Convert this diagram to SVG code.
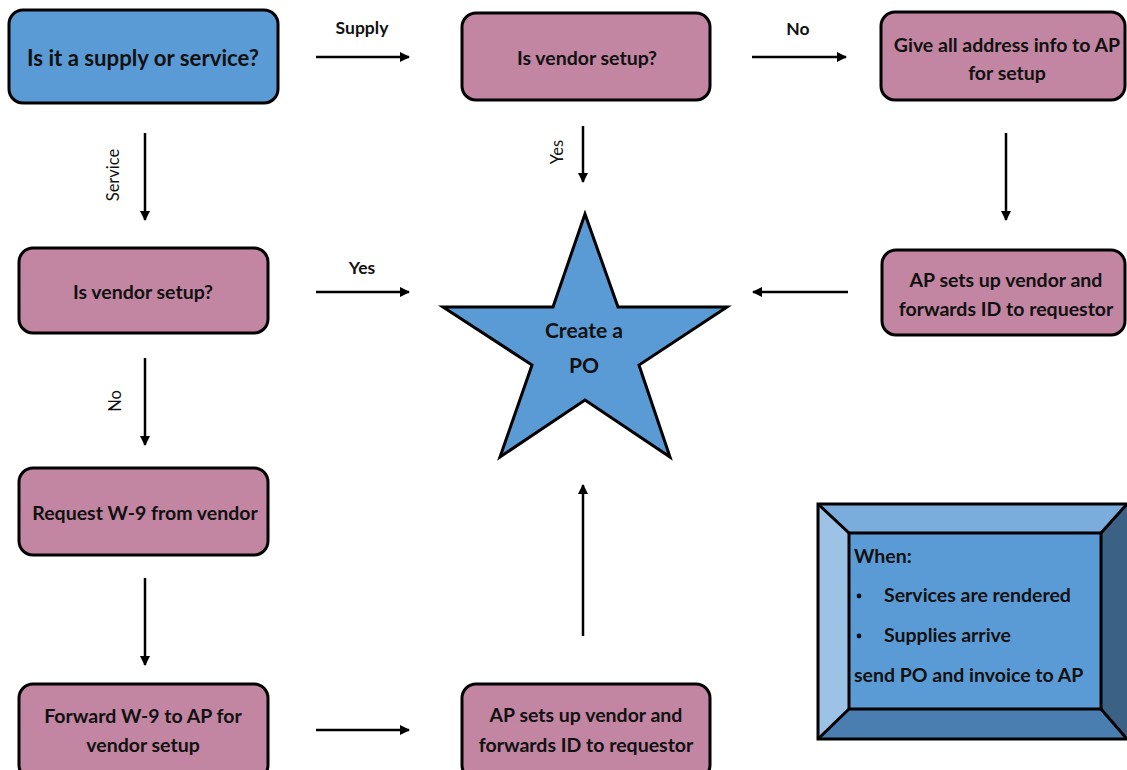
<svg xmlns="http://www.w3.org/2000/svg" width="1127" height="770" viewBox="0 0 1127 770">
  <style>
    .box { stroke: #000; stroke-width: 3; }
    .blue { fill: #5b9bd5; }
    .pink { fill: #c285a2; }
    .t { font-family: Lato, "Open Sans", "Liberation Sans", sans-serif; font-weight: bold; fill: #111; text-anchor: middle; font-size: 19.5px; }
    .l { text-anchor: start; }
    .big { font-size: 22.2px; }
    .star { font-size: 21.1px; }
    .lbl { font-family: Lato, "Open Sans", "Liberation Sans", sans-serif; fill: #111; text-anchor: middle; font-size: 17.5px; }
    .rot { font-size: 16.5px; }
    .c { stroke: #000; stroke-width: 2.5; fill: none; marker-end: url(#arr); }
  </style>
  <defs>
    <marker id="arr" viewBox="0 0 10 10" refX="9" refY="5" markerWidth="4" markerHeight="4" orient="auto" markerUnits="strokeWidth">
      <path d="M0,0 L10,5 L0,10 z" fill="#000"/>
    </marker>
  </defs>
  <rect width="1127" height="770" fill="#fff"/>

  <g id="connectors">
    <line class="c" x1="316" y1="57" x2="409" y2="57"/>
    <text class="lbl" x="362" y="34" font-weight="bold">Supply</text>
    <line class="c" x1="752" y1="57" x2="846" y2="57"/>
    <text class="lbl" x="798" y="35" font-weight="bold">No</text>
    <line class="c" x1="583" y1="126" x2="583" y2="182"/>
    <text class="lbl rot" transform="translate(563,152) rotate(-90)">Yes</text>
    <line class="c" x1="1006" y1="133" x2="1006" y2="220"/>
    <line class="c" x1="848" y1="292" x2="753" y2="292"/>
    <line class="c" x1="145" y1="133" x2="145" y2="220"/>
    <text class="lbl rot" transform="translate(119,175) rotate(-90)">Service</text>
    <line class="c" x1="316" y1="292" x2="409" y2="292"/>
    <text class="lbl" x="362" y="274" font-weight="bold">Yes</text>
    <line class="c" x1="145" y1="358" x2="145" y2="445"/>
    <text class="lbl rot" transform="translate(121,401) rotate(-90)">No</text>
    <line class="c" x1="145" y1="578" x2="145" y2="665"/>
    <line class="c" x1="316" y1="730" x2="409" y2="730"/>
    <line class="c" x1="583" y1="636" x2="583" y2="485"/>
  </g>

  <g id="n-supply-or-service">
    <rect class="box blue" x="9" y="10" width="269" height="93" rx="14"/>
    <text class="t big" x="143" y="66">Is it a supply or service?</text>
  </g>

  <g id="n-vendor-setup-supply">
    <rect class="box pink" x="462" y="13" width="248" height="87" rx="14"/>
    <text class="t" x="587" y="65">Is vendor setup?</text>
  </g>

  <g id="n-give-address">
    <rect class="box pink" x="881" y="12" width="244" height="88" rx="14"/>
    <text class="t" x="1007" y="52">Give all address info to AP</text>
    <text class="t" x="1007" y="80">for setup</text>
  </g>

  <g id="n-ap-setup-right">
    <rect class="box pink" x="882" y="250" width="243" height="85" rx="14"/>
    <text class="t" x="1006" y="287">AP sets up vendor and</text>
    <text class="t" x="1006" y="316">forwards ID to requestor</text>
  </g>

  <g id="n-vendor-setup-service">
    <rect class="box pink" x="19" y="248" width="249" height="85" rx="14"/>
    <text class="t" x="143" y="299">Is vendor setup?</text>
  </g>

  <g id="n-create-po">
    <polygon class="box blue" points="585,214 553,307 443,307 532,365 500,457 585,400 670,457 639,365 727,307 618,307"/>
    <text class="t star" x="584" y="338">Create a</text>
    <text class="t star" x="584" y="373">PO</text>
  </g>

  <g id="n-request-w9">
    <rect class="box pink" x="19" y="468" width="249" height="87" rx="14"/>
    <text class="t" x="145" y="520">Request W-9 from vendor</text>
  </g>

  <g id="n-forward-w9">
    <rect class="box pink" x="19" y="684" width="249" height="95" rx="14"/>
    <text class="t" x="143" y="723">Forward W-9 to AP for</text>
    <text class="t" x="143" y="752">vendor setup</text>
  </g>

  <g id="n-ap-setup-bottom">
    <rect class="box pink" x="462" y="684" width="248" height="95" rx="14"/>
    <text class="t" x="586" y="722">AP sets up vendor and</text>
    <text class="t" x="586" y="752">forwards ID to requestor</text>
  </g>

  <g id="n-when-note">
    <polygon points="818,504 1127,504 1101,533 849,533" fill="#7aaddc"/>
    <polygon points="818,504 849,533 849,709 818,739" fill="#9cc2e5"/>
    <polygon points="1127,504 1127,739 1101,709 1101,533" fill="#3b6185"/>
    <polygon points="818,739 849,709 1101,709 1127,739" fill="#4a7db0"/>
    <rect x="849" y="533" width="252" height="176" fill="#5b9bd5"/>
    <g stroke="#000" stroke-width="3" fill="none">
      <rect x="818" y="504" width="311" height="235"/>
      <rect x="849" y="533" width="252" height="176"/>
      <line x1="818" y1="504" x2="849" y2="533"/>
      <line x1="1127" y1="504" x2="1101" y2="533"/>
      <line x1="818" y1="739" x2="849" y2="709"/>
      <line x1="1127" y1="739" x2="1101" y2="709"/>
    </g>
    <text class="t l" x="854" y="563">When:</text>
    <circle cx="859" cy="596" r="2.4" fill="#111"/>
    <text class="t l" x="884" y="602">Services are rendered</text>
    <circle cx="859" cy="636" r="2.4" fill="#111"/>
    <text class="t l" x="884" y="642">Supplies arrive</text>
    <text class="t l" x="854" y="682">send PO and invoice to AP</text>
  </g>
</svg>
